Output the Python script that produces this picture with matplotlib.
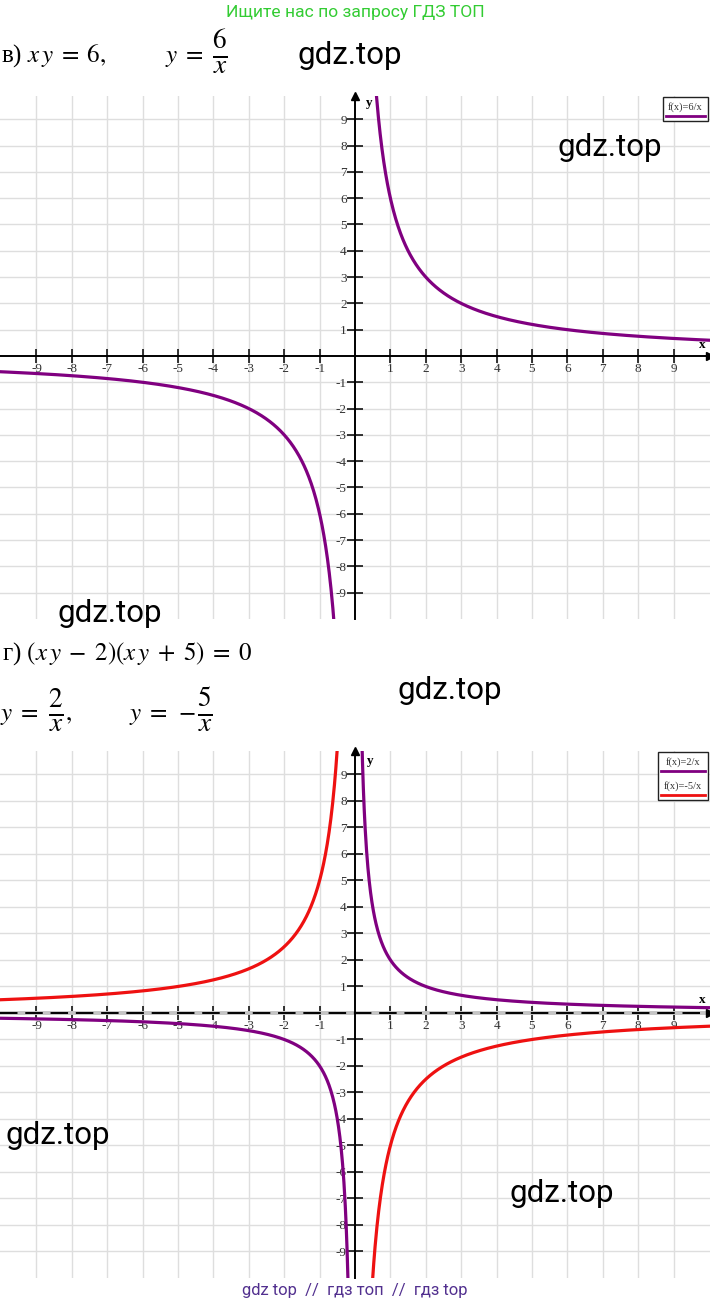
import numpy as np
import matplotlib
matplotlib.use('Agg')
import matplotlib.pyplot as plt
from matplotlib.patches import Rectangle
from matplotlib.lines import Line2D

W, H = 710, 1304

# coefficients of y = k/x
k_top = 6
k_bottom = [2, -5]
color_top = '#800080'
colors_bottom = ['#800080', '#ee1111']
legend_top = ['f(x)=6/x']
legend_bottom = ['f(x)=2/x', 'f(x)=-5/x']
ticks = [-9, -8, -7, -6, -5, -4, -3, -2, -1, 1, 2, 3, 4, 5, 6, 7, 8, 9]
tick_labels = [str(t) for t in ticks]

plt.rcParams['mathtext.fontset'] = 'stix'


def fp(x, y):
    # pixel position -> figure fraction
    return x / W, 1 - y / H


def setup(ax, dashed=False):
    ax.set_xlim(-10.03, 10.03)
    ax.set_ylim(-10, 9.9)
    ax.spines['top'].set_visible(False)
    ax.spines['right'].set_visible(False)
    ax.spines['left'].set_position('zero')
    ax.spines['bottom'].set_position('zero')
    ax.spines['left'].set_linewidth(1.4)
    ax.spines['bottom'].set_linewidth(1.4)
    ax.set_xticks(ticks)
    ax.set_xticklabels(tick_labels)
    ax.set_yticks(ticks)
    ax.set_yticklabels(tick_labels)
    ax.tick_params(axis='x', direction='inout', length=10, width=1.1, labelsize=9.5, pad=0, labelcolor='#333333')
    ax.tick_params(axis='y', direction='inout', length=12, width=1.1, labelsize=9.5, pad=0, labelcolor='#333333')
    for lab in ax.get_xticklabels() + ax.get_yticklabels():
        lab.set_family('Liberation Serif')
    ax.grid(True, color='#dedede', lw=1.0, ls='-')
    ax.set_axisbelow(True)
    ax.plot(0, 1, '^', color='k', ms=6, transform=ax.get_xaxis_transform(), clip_on=False)
    ax.plot(1, 0, '>', color='k', ms=6, transform=ax.get_yaxis_transform(), clip_on=False)
    if dashed:
        ax.spines['bottom'].set_visible(False)
        ax.axhline(0, color='#c4c4c4', lw=2.8, zorder=1)
        ax.axhline(0, color='k', lw=1.4, dashes=(9, 4), zorder=1.5)


def legend_box(fig, box, labels, colors):
    x0, y0, x1, y1 = box
    fx0, fy1 = fp(x0, y0)
    fx1, fy0 = fp(x1, y1)
    fig.add_artist(Rectangle((fx0, fy0), fx1 - fx0, fy1 - fy0, transform=fig.transFigure,
                             facecolor='white', edgecolor='#222222', lw=1, zorder=5))
    step = (y1 - y0) / len(labels)
    for i, (lab, c) in enumerate(zip(labels, colors)):
        ty = y0 + step * i + step * 0.4
        ly = y0 + step * i + step * 0.78
        fig.text(*fp((x0 + x1) / 2, ty), lab, ha='center', va='center', fontsize=7.5,
                 family='Liberation Serif', color='#333333', zorder=6)
        fig.add_artist(Line2D([fx0 + 3 / W, fx1 - 3 / W], [fp(0, ly)[1]] * 2,
                              transform=fig.transFigure, color=c, lw=2, zorder=6))


fig = plt.figure(figsize=(W / 100, H / 100), dpi=100)

# panel 1: y = 6/x
ax1 = fig.add_axes([0, 1 - 619 / H, 1, (619 - 95.6) / H])
setup(ax1)
xp = np.linspace(0.05, 10.2, 600)
ax1.plot(xp, k_top / xp, color=color_top, lw=2.3, zorder=3)
ax1.plot(-xp, k_top / -xp, color=color_top, lw=2.3, zorder=3)

# panel 2: y = 2/x, y = -5/x
ax2 = fig.add_axes([0, 1 - 1278 / H, 1, (1278 - 750.6) / H])
setup(ax2, dashed=True)
xp2 = np.linspace(0.02, 10.2, 800)
for k, c in zip(k_bottom, colors_bottom):
    ax2.plot(xp2, k / xp2, color=c, lw=2.3, zorder=3)
    ax2.plot(-xp2, k / -xp2, color=c, lw=2.3, zorder=3)

# axis names
fig.text(*fp(369, 103), 'y', fontsize=9.5, fontweight='bold', family='Liberation Serif', ha='center', va='center')
fig.text(*fp(702, 345), 'x', fontsize=9.5, fontweight='bold', family='Liberation Serif', ha='center', va='center')
fig.text(*fp(370, 761), 'y', fontsize=9.5, fontweight='bold', family='Liberation Serif', ha='center', va='center')
fig.text(*fp(702, 1000), 'x', fontsize=9.5, fontweight='bold', family='Liberation Serif', ha='center', va='center')

legend_box(fig, (663, 97, 708, 121), legend_top, [color_top])
legend_box(fig, (658, 752, 708, 800), legend_bottom, colors_bottom)

# header texts
fig.text(*fp(355, 12), 'Ищите нас по запросу ГДЗ ТОП', ha='center', va='center',
         fontsize=12.6, family='Roboto', color='#33cc33')

MS = 18   # main math size
FS = 28   # fraction size
fig.text(*fp(1, 62), r'в) $x\,y\;=\;6,$', ha='left', va='baseline', fontsize=MS, family='Liberation Serif')
fig.text(*fp(165, 62), r'$y\;=$', ha='left', va='baseline', fontsize=MS)
fig.text(*fp(220, 66), r'$\frac{6}{x}$', ha='center', va='baseline', fontsize=FS)

fig.text(*fp(2, 660), r'г) $(x\,y\;-\;2)(x\,y\;+\;5)\;=\;0$', ha='left', va='baseline', fontsize=MS,
         family='Liberation Serif')
fig.text(*fp(0, 720), r'$y\;=$', ha='left', va='baseline', fontsize=MS)
fig.text(*fp(56, 723), r'$\frac{2}{x}$', ha='center', va='baseline', fontsize=FS)
fig.text(*fp(65, 720), r'$,$', ha='left', va='baseline', fontsize=MS)
fig.text(*fp(129, 720), r'$y\;=\;-$', ha='left', va='baseline', fontsize=MS)
fig.text(*fp(205, 723), r'$\frac{5}{x}$', ha='center', va='baseline', fontsize=FS)

# watermarks
for cx, cy in [(350, 55), (610, 147), (110, 613), (450, 690), (58, 1135), (562, 1194)]:
    fig.text(*fp(cx, cy), 'gdz.top', ha='center', va='center', fontsize=22.5, family='Roboto', color='black')

fig.text(*fp(355, 1290), 'gdz top  //  гдз топ  //  гдз top', ha='center', va='center',
         fontsize=12, family='Roboto', color='#52308f')

fig.savefig('out.png', dpi=100)
